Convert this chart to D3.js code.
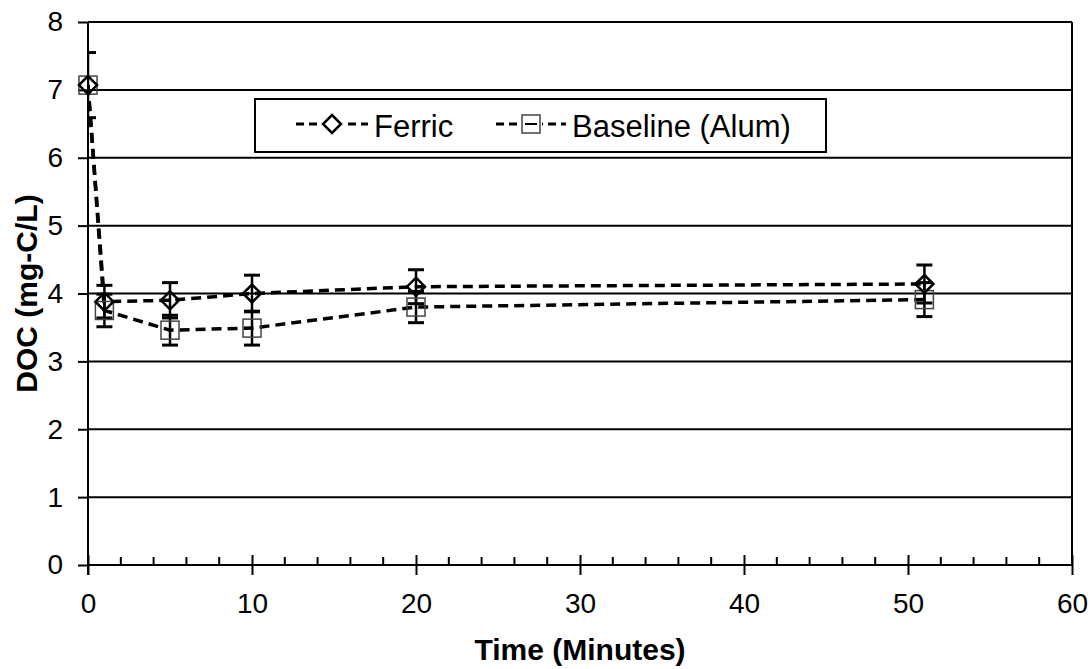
<!DOCTYPE html>
<html>
<head>
<meta charset="utf-8">
<script src="https://cdn.jsdelivr.net/npm/d3@7"></script>
<style>
  body { margin: 0; background: #fff; }
  svg text { font-family: "Liberation Sans", Arial, sans-serif; fill: #000; }
</style>
</head>
<body>
<div id="viz"></div>
<script>
// data
const times = [0, 1, 5, 10, 20, 51];
const ferric = [7.07, 3.88, 3.90, 4.00, 4.10, 4.14];
const ferricErr = [0.48, 0.24, 0.26, 0.27, 0.25, 0.28];
const alum = [7.07, 3.75, 3.46, 3.49, 3.80, 3.91];
const alumErr = [0.0, 0.24, 0.22, 0.25, 0.23, 0.25];
const xTicks = [0, 10, 20, 30, 40, 50, 60];
const yTicks = [0, 1, 2, 3, 4, 5, 6, 7, 8];

const width = 1092, height = 669;
const margin = { left: 88, right: 20, top: 22, bottom: 104 };

const svg = d3.select("#viz").append("svg")
  .attr("width", width).attr("height", height);

const x = d3.scaleLinear().domain([0, 60]).range([margin.left, width - margin.right]);
const y = d3.scaleLinear().domain([0, 8]).range([height - margin.bottom, margin.top]);

svg.append("defs").append("clipPath").attr("id", "plot")
  .append("rect")
  .attr("x", x(0)).attr("y", y(8) - 5)
  .attr("width", x(60) - x(0)).attr("height", y(0) - y(8) + 5);

// gridlines + y ticks
const yAxis = d3.axisLeft(y).tickValues(yTicks).tickSize(10).tickPadding(15).tickFormat(d3.format("d"));
const gy = svg.append("g").attr("transform", `translate(${x(0)},0)`).call(yAxis);
gy.select(".domain").remove();
gy.selectAll(".tick line").attr("stroke", "#000").attr("stroke-width", 2);
gy.selectAll(".tick text").style("font-size", "28px");

svg.append("g").selectAll("line").data(yTicks).join("line")
  .attr("x1", x(0)).attr("x2", x(60))
  .attr("y1", d => y(d)).attr("y2", d => y(d))
  .attr("stroke", "#000").attr("stroke-width", 2);

// right border
svg.append("line").attr("x1", x(60)).attr("x2", x(60))
  .attr("y1", y(8)).attr("y2", y(0)).attr("stroke", "#000").attr("stroke-width", 2);

// x axis: minor ticks inside, major ticks crossing
const minor = d3.range(0, 61, 2).filter(d => d % 10 !== 0);
svg.append("g").selectAll("line").data(minor).join("line")
  .attr("x1", d => x(d)).attr("x2", d => x(d))
  .attr("y1", y(0)).attr("y2", y(0) - 8)
  .attr("stroke", "#000").attr("stroke-width", 2);

const xAxis = d3.axisBottom(x).tickValues(xTicks).tickSize(10).tickPadding(18).tickFormat(d3.format("d"));
const gx = svg.append("g").attr("transform", `translate(0,${y(0)})`).call(xAxis);
gx.select(".domain").attr("stroke", "#000").attr("stroke-width", 2)
  .attr("d", `M${x(0)},0H${x(60)}`);
gx.selectAll(".tick line").attr("stroke", "#000").attr("stroke-width", 2).attr("y1", -10);
gx.selectAll(".tick text").style("font-size", "28px");

// y axis line
svg.append("line").attr("x1", x(0)).attr("x2", x(0))
  .attr("y1", y(8)).attr("y2", y(0) + 10).attr("stroke", "#000").attr("stroke-width", 2);

// axis titles
svg.append("text").attr("x", x(30)).attr("y", 660).attr("text-anchor", "middle")
  .style("font-size", "30px").style("font-weight", "bold").text("Time (Minutes)");
svg.append("text").attr("transform", `translate(37,${y(4)}) rotate(-90)`)
  .attr("text-anchor", "middle")
  .style("font-size", "30px").style("font-weight", "bold").text("DOC (mg-C/L)");

const plot = svg.append("g").attr("clip-path", "url(#plot)");
const markers = svg.append("g");

const line = d3.line().x(d => x(d[0])).y(d => y(d[1]));
const series = [
  { name: "Ferric", vals: ferric, err: ferricErr, marker: "diamond", color: "#000" },
  { name: "Baseline (Alum)", vals: alum, err: alumErr, marker: "square", color: "#444" }
];

function drawMarker(g, type, cx, cy, color, fill) {
  if (type === "diamond") {
    g.append("path")
      .attr("d", `M${cx},${cy - 9}L${cx + 9},${cy}L${cx},${cy + 9}L${cx - 9},${cy}Z`)
      .attr("fill", fill).attr("stroke", color).attr("stroke-width", 2.5);
  } else {
    g.append("rect").attr("x", cx - 9).attr("y", cy - 9).attr("width", 18).attr("height", 18)
      .attr("fill", fill).attr("stroke", color).attr("stroke-width", 1.5);
  }
}

series.forEach(s => {
  const pts = times.map((t, i) => [t, s.vals[i]]);
  plot.append("path").datum(pts).attr("d", line)
    .attr("fill", "none").attr("stroke", "#000").attr("stroke-width", 3.5)
    .attr("stroke-dasharray", "10,6");
});

// alum squares first, ferric diamonds on top
[series[1], series[0]].forEach(s => {
  times.forEach((t, i) => {
    drawMarker(markers, s.marker, x(t), y(s.vals[i]), s.color, "none");
  });
});

// error bars
series.forEach(s => {
  times.forEach((t, i) => {
    const e = s.err[i];
    if (!e) return;
    const g = plot.append("g").attr("stroke", "#000").attr("stroke-width", 3);
    g.append("line").attr("x1", x(t)).attr("x2", x(t))
      .attr("y1", y(s.vals[i] - e)).attr("y2", y(s.vals[i] + e)).attr("stroke-width", 2.5);
    [s.vals[i] - e, s.vals[i] + e].forEach(v => {
      g.append("line").attr("x1", x(t) - 8).attr("x2", x(t) + 8)
        .attr("y1", y(v)).attr("y2", y(v));
    });
  });
});

// legend
const lg = svg.append("g");
lg.append("rect").attr("x", 255).attr("y", 99).attr("width", 571).attr("height", 53)
  .attr("fill", "#fff").attr("stroke", "#000").attr("stroke-width", 2);
const legendItems = [
  { s: series[0], x0: 296, x1: 368, tx: 374 },
  { s: series[1], x0: 496, x1: 566, tx: 572 }
];
legendItems.forEach(it => {
  const ly = 124;
  lg.append("line").attr("x1", it.x0).attr("x2", it.x1).attr("y1", ly).attr("y2", ly)
    .attr("stroke", "#000").attr("stroke-width", 3).attr("stroke-dasharray", "8,5");
  const cx = (it.x0 + it.x1) / 2;
  lg.append("rect").attr("x", cx - 11).attr("y", ly - 11).attr("width", 22).attr("height", 22).attr("fill", "#fff");
  if (it.s.marker === "diamond") {
    drawMarker(lg, "diamond", cx, ly, "#000", "#fff");
  } else {
    drawMarker(lg, "square", cx, ly, "#444", "#fff");
    lg.append("line").attr("x1", cx - 6).attr("x2", cx + 6).attr("y1", ly).attr("y2", ly)
      .attr("stroke", "#000").attr("stroke-width", 2);
  }
  lg.append("text").attr("x", it.tx).attr("y", 137).style("font-size", "31px").text(it.s.name);
});
</script>
</body>
</html>
